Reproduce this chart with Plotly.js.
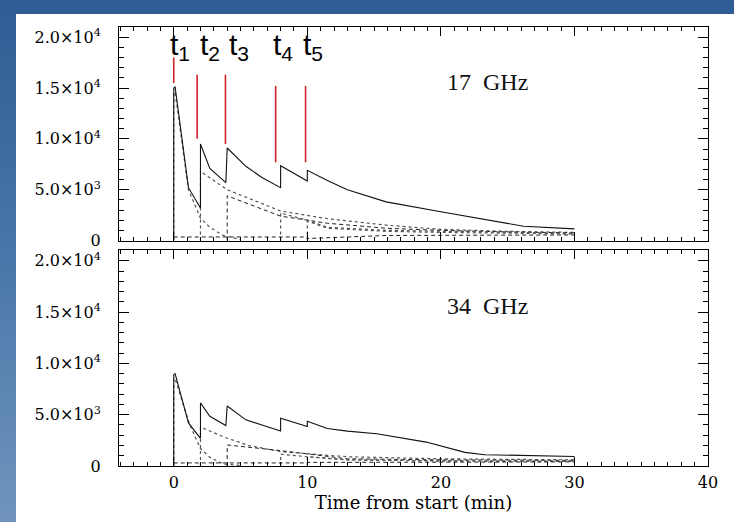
<!DOCTYPE html>
<html><head><meta charset="utf-8">
<script src="https://cdn.plot.ly/plotly-3.0.1.min.js"></script>
<style>
html,body{margin:0;padding:0;width:734px;height:522px;overflow:hidden;}
body{background:linear-gradient(to bottom,#2d5d93 0%,#4a77a9 50%,#7094be 100%);}
#panel{position:absolute;left:16px;top:14px;width:718px;height:508px;background:#fff;}
#chart{position:absolute;left:0;top:0;width:734px;height:522px;}
</style></head><body>
<div id="panel"></div><div id="chart"></div>
<script>
// ---- tick labels ----
const yTickVals = [0, 5000, 10000, 15000, 20000];
const yTickText = ['0', '5.0\u00d710<sup>3</sup>', '1.0\u00d710<sup>4</sup>', '1.5\u00d710<sup>4</sup>', '2.0\u00d710<sup>4</sup>'];
const xTickVals = [0, 10, 20, 30, 40];

// ---- injection markers (17 GHz panel) ----
const eventNames = ['t<sub>1</sub>', 't<sub>2</sub>', 't<sub>3</sub>', 't<sub>4</sub>', 't<sub>5</sub>'];
const eventTimes = [0, 1.75, 3.87, 7.63, 9.87];
const eventLabelTimes = [0.45, 2.7, 4.9, 8.2, 10.4];
const markerTop = [18000, 16300, 16300, 15200, 15200];
const markerBottom = [15500, 10000, 9500, 7700, 7700];

// ---- 17 GHz ----
const t17Total = [0, 0, 0.1, 0.6, 1.1, 2.0, 2.0, 2.7, 3.9, 4.0, 5.4, 6.6, 8.0, 8.0, 10.0, 10.0, 11.5, 13, 15.9, 20.1, 23.3, 26.2, 30];
const v17Total = [0, 15000, 15100, 10000, 5200, 3200, 9500, 7100, 5700, 9100, 7300, 6200, 5200, 7350, 5850, 6900, 5900, 5000, 3800, 2800, 2100, 1400, 1150];
const t17c1 = [0, 0, 0.1, 1.1, 2.0, 2.7, 3.7, 5.0];
const v17c1 = [0, 14500, 14600, 5000, 2200, 1300, 500, 100];
const t17c2 = [2, 2, 4, 8, 11.5, 16, 20, 25, 30];
const v17c2 = [0, 6800, 5000, 2900, 2150, 1500, 1100, 900, 800];
const t17c3 = [4, 4, 8, 11.5, 16, 20, 25, 30];
const v17c3 = [0, 4400, 2400, 1700, 1200, 1000, 850, 750];
const t17c4 = [8, 8, 10, 11.5, 16, 20, 30];
const v17c4 = [0, 2700, 2000, 1300, 1000, 900, 700];
const t17c5 = [10, 10, 11.5, 16, 20, 30];
const v17c5 = [0, 1900, 1200, 900, 800, 650];
const t17low = [0, 10, 10, 16, 30];
const v17low = [350, 350, 200, 500, 550];

// ---- 34 GHz ----
const t34Total = [0, 0, 0.1, 1.1, 2.0, 2.0, 2.7, 3.9, 4.0, 5.4, 6.6, 8.0, 8.0, 10.0, 10.0, 11.5, 13, 15.2, 18.9, 21.8, 23.3, 30];
const v34Total = [0, 8900, 9000, 4200, 2700, 6150, 4850, 3950, 5850, 4500, 4000, 3400, 4650, 3850, 4350, 3650, 3400, 3150, 2330, 1330, 1100, 930];
const t34c1 = [0, 0, 0.1, 1.2, 2.0, 2.7, 3.7, 5.0];
const v34c1 = [0, 8500, 8500, 4000, 1700, 850, 200, 50];
const t34c2 = [2, 2, 3.7, 5.6, 8, 13, 20, 30];
const v34c2 = [0, 3800, 2850, 2000, 1400, 900, 700, 600];
const t34c3 = [4, 4, 8, 13, 20, 30];
const v34c3 = [0, 2050, 1500, 700, 600, 550];
const t34c4 = [8, 8, 10, 13, 20, 30];
const v34c4 = [0, 1150, 900, 600, 500, 450];
const t34c5 = [10, 10, 13, 20, 30];
const v34c5 = [0, 900, 600, 500, 450];
const t34low = [0, 10, 10, 30];
const v34low = [300, 300, 350, 400];

const panelLabels = ['17  GHz', '34  GHz'];
const panelLabelPos = [23.5, 15600];

function line(x, y, xa, ya, dash, width, color) {
  return {x: x, y: y, xaxis: xa, yaxis: ya, type: 'scatter', mode: 'lines',
    line: {color: color || '#000', width: width || 1, dash: dash || 'solid'}, hoverinfo: 'skip', showlegend: false};
}

const markX = [], markY = [];
eventTimes.forEach((t, i) => { markX.push(t, t, null); markY.push(markerBottom[i], markerTop[i], null); });

const SHORT = '4px,3px';
const traces = [
  line(t17c1, v17c1, 'x', 'y', 'dot', 1.2, '#555'),
  line(t17c2, v17c2, 'x', 'y', 'dot', 1.2, '#555'),
  line(t17c3, v17c3, 'x', 'y', SHORT, 1, '#222'),
  line(t17c4, v17c4, 'x', 'y', 'dot', 1.2, '#555'),
  line(t17c5, v17c5, 'x', 'y', 'dot', 1.2, '#555'),
  line(t17low, v17low, 'x', 'y', SHORT, 1, '#222'),
  line(t17Total, v17Total, 'x', 'y', 'solid', 1.1, '#111'),
  line(markX, markY, 'x', 'y', 'solid', 1.6, '#d0242a'),
  line(t34c1, v34c1, 'x2', 'y2', 'dot', 1.2, '#555'),
  line(t34c2, v34c2, 'x2', 'y2', 'dot', 1.2, '#555'),
  line(t34c3, v34c3, 'x2', 'y2', SHORT, 1, '#222'),
  line(t34c4, v34c4, 'x2', 'y2', 'dot', 1.2, '#555'),
  line(t34c5, v34c5, 'x2', 'y2', 'dot', 1.2, '#555'),
  line(t34low, v34low, 'x2', 'y2', SHORT, 1, '#222'),
  line(t34Total, v34Total, 'x2', 'y2', 'solid', 1.1, '#111')
];

const tickFont = {family: 'DejaVu Serif', size: 16, color: '#000'};
function xAxis(anchor, showLabels) {
  return {range: [-4.1, 40], anchor: anchor, showgrid: false, zeroline: false,
    showline: true, linecolor: '#000', linewidth: 1, mirror: 'ticks',
    ticks: 'inside', ticklen: 9, tickcolor: '#000', tickvals: xTickVals,
    showticklabels: showLabels, tickfont: tickFont, ticklabelstandoff: 2,
    minor: {ticks: 'inside', ticklen: 4, dtick: 1, tick0: 0, tickcolor: '#000'}};
}
function yAxis(domain, anchor) {
  return {range: [0, 21000], domain: domain, anchor: anchor, showgrid: false, zeroline: false,
    showline: true, linecolor: '#000', linewidth: 1, mirror: 'ticks',
    ticks: 'inside', ticklen: 10, tickcolor: '#000', tickvals: yTickVals, ticktext: yTickText,
    tickfont: tickFont, ticklabelstandoff: 14,
    minor: {ticks: 'inside', ticklen: 5, dtick: 1000, tick0: 0, tickcolor: '#000'}};
}

const xa2 = xAxis('y2', true);
xa2.title = {text: 'Time from start (min)', font: {family: 'DejaVu Serif', size: 18, color: '#000'}, standoff: 2};

const annotations = [];
eventNames.forEach((n, i) => annotations.push({x: eventLabelTimes[i], y: 0.955, xref: 'x', yref: 'paper',
  text: n, showarrow: false, xanchor: 'center', yanchor: 'middle',
  font: {family: 'Liberation Sans', size: 30, color: '#000'}}));
annotations.push({x: panelLabelPos[0], y: panelLabelPos[1], xref: 'x', yref: 'y', text: panelLabels[0],
  showarrow: false, font: {family: 'Liberation Serif', size: 24, color: '#111'}});
annotations.push({x: panelLabelPos[0], y: panelLabelPos[1], xref: 'x2', yref: 'y2', text: panelLabels[1],
  showarrow: false, font: {family: 'Liberation Serif', size: 24, color: '#111'}});

const layout = {
  width: 734, height: 522,
  margin: {l: 119, r: 26, t: 27, b: 56},
  paper_bgcolor: 'rgba(0,0,0,0)', plot_bgcolor: '#fff',
  showlegend: false, hovermode: false,
  xaxis: xAxis('y', false),
  yaxis: yAxis([0.5136, 1], 'x'),
  xaxis2: xa2,
  yaxis2: yAxis([0, 0.4909], 'x2'),
  annotations: annotations
};
Plotly.newPlot('chart', traces, layout, {displayModeBar: false, staticPlot: true});
</script></body></html>
